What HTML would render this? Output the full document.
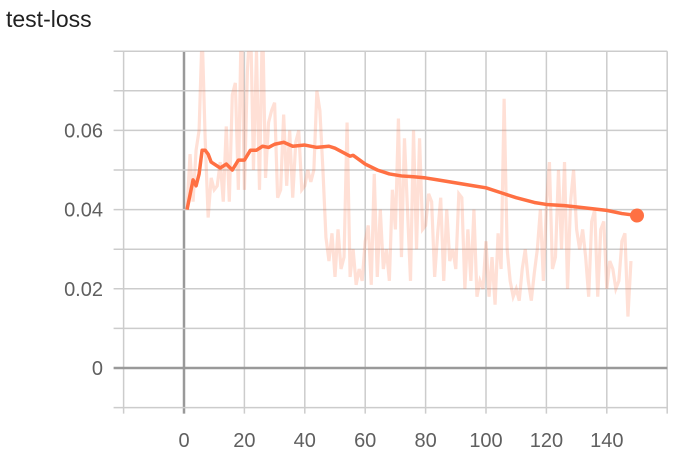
<!DOCTYPE html>
<html><head><meta charset="utf-8"><style>
html,body{margin:0;padding:0;background:#fff;width:682px;height:462px;overflow:hidden;font-family:"Liberation Sans",sans-serif}
</style></head><body>
<svg id="chart" width="682" height="462" xmlns="http://www.w3.org/2000/svg">
<text x="6" y="27" font-size="23" fill="#212121">test-loss</text>
<g id="grid"></g>
<g id="labels"></g>
<g id="series"></g>
</svg>
<script>
const xTicks=[0,20,40,60,80,100,120,140];
const yTicks=[0,0.02,0.04,0.06];
const yTickLabels=["0","0.02","0.04","0.06"];
const smoothSteps=[1,3,4,5,6,7,8,9,12,14,16,18,20,22,24,26,28,30,33,36,40,44,48,50,55,56,60,64,68,72,76,80,84,88,92,96,100,106,110,116,120,126,132,140,145,150];
const smoothVals=[0.040,0.0475,0.046,0.049,0.055,0.055,0.054,0.052,0.0505,0.0515,0.050,0.0525,0.0525,0.055,0.055,0.056,0.0557,0.0565,0.057,0.056,0.0563,0.0557,0.056,0.0555,0.0535,0.0537,0.0515,0.050,0.049,0.0485,0.0483,0.048,0.0475,0.047,0.0465,0.046,0.0455,0.044,0.043,0.0418,0.0413,0.041,0.0405,0.0398,0.039,0.0385];
const rawVals=[0.040,0.054,0.042,0.055,0.060,0.085,0.058,0.038,0.048,0.045,0.046,0.052,0.042,0.061,0.042,0.069,0.072,0.045,0.09,0.045,0.075,0.09,0.05,0.08,0.045,0.09,0.048,0.062,0.065,0.067,0.043,0.045,0.064,0.046,0.060,0.043,0.057,0.060,0.045,0.046,0.050,0.047,0.050,0.070,0.065,0.050,0.033,0.027,0.034,0.023,0.035,0.025,0.028,0.062,0.023,0.030,0.021,0.025,0.022,0.032,0.036,0.021,0.049,0.023,0.040,0.025,0.030,0.022,0.045,0.035,0.063,0.028,0.058,0.040,0.022,0.060,0.030,0.058,0.035,0.036,0.044,0.042,0.023,0.034,0.043,0.022,0.040,0.027,0.030,0.025,0.044,0.043,0.020,0.035,0.022,0.040,0.018,0.022,0.020,0.032,0.018,0.028,0.016,0.034,0.025,0.068,0.030,0.022,0.018,0.020,0.017,0.025,0.030,0.022,0.017,0.024,0.030,0.040,0.022,0.041,0.052,0.025,0.028,0.050,0.030,0.052,0.020,0.042,0.050,0.035,0.030,0.035,0.028,0.018,0.037,0.040,0.018,0.035,0.037,0.020,0.027,0.025,0.020,0.022,0.032,0.034,0.013,0.027];
const X=v=>184+3.02*v;
const Y=v=>368-3960*v;
const NS="http://www.w3.org/2000/svg";
function mk(tag,attrs,parent){const e=document.createElementNS(NS,tag);for(const k in attrs)e.setAttribute(k,attrs[k]);parent.appendChild(e);return e;}
const gridG=document.getElementById('grid'),labelsG=document.getElementById('labels'),seriesG=document.getElementById('series');
const pLeft=X(-20),pRight=X(160),pTop=Y(0.08),pBot=Y(-0.01);
for(let v=-20;v<=160;v+=20){const l=mk('line',{x1:X(v),x2:X(v),y1:pTop,y2:pBot+6,stroke:v===0?'#999':'#ccc','stroke-width':v===0?2.5:1.5},gridG);

}
for(let i=-1;i<=8;i++){const v=i*0.01;const l=mk('line',{x1:pLeft-10,x2:pRight,y1:Y(v),y2:Y(v),stroke:i===0?'#999':'#ccc','stroke-width':i===0?2.5:1.5},gridG);

}
xTicks.forEach(v=>{const t=mk('text',{x:X(v),y:447,'text-anchor':'middle','font-size':20,fill:'#5f5f5f'},labelsG);t.textContent=v;

});
yTicks.forEach((v,i)=>{const t=mk('text',{x:103,y:Y(v)+7,'text-anchor':'end','font-size':20,fill:'#5f5f5f'},labelsG);t.textContent=yTickLabels[i];

});
const clip=mk('clipPath',{id:'c'},seriesG);mk('rect',{x:pLeft,y:pTop,width:pRight-pLeft,height:pBot-pTop},clip);
const raw=mk('polyline',{points:rawVals.map((v,i)=>X(i+1)+','+Y(v)).join(' '),fill:'none',stroke:'#ff7043','stroke-opacity':0.22,'stroke-width':3.2,'clip-path':'url(#c)'},seriesG);


const sm=mk('polyline',{points:smoothVals.map((v,i)=>X(smoothSteps[i])+','+Y(v)).join(' '),fill:'none',stroke:'#ff7043','stroke-width':3.5,'stroke-linejoin':'round'},seriesG);


const n=smoothVals.length-1;
const dot=mk('circle',{cx:X(smoothSteps[n]),cy:Y(smoothVals[n]),r:7,fill:'#ff7043'},seriesG);


</script>
</body></html>
